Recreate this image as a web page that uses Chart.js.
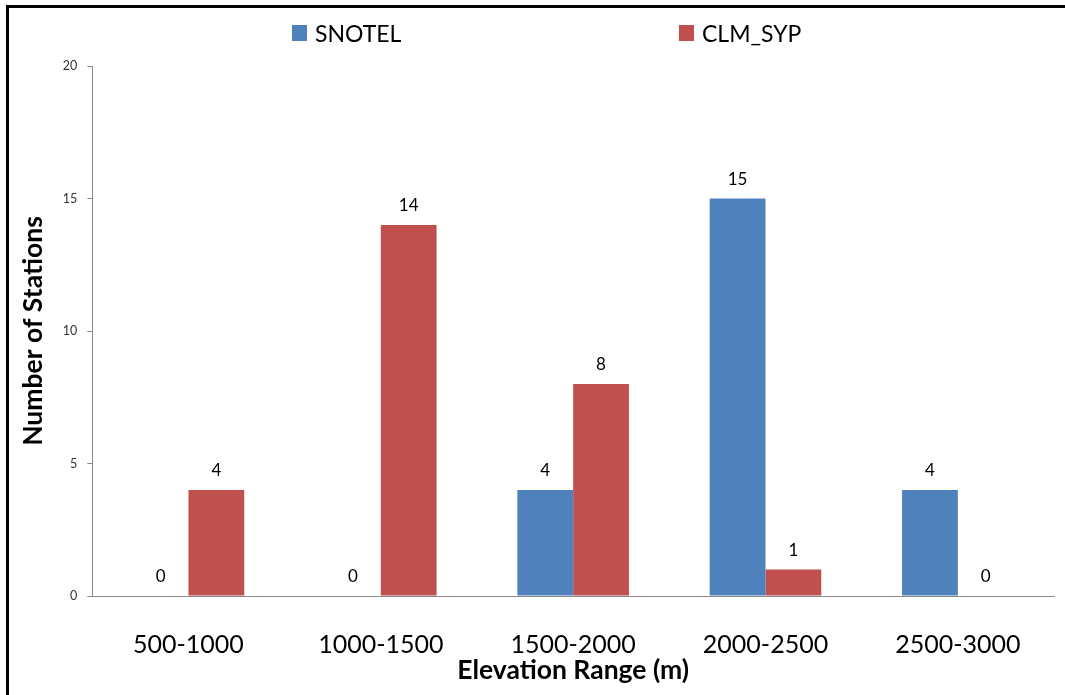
<!DOCTYPE html>
<html>
<head>
<meta charset="utf-8">
<script src="https://cdn.jsdelivr.net/npm/chart.js@4.4.1/dist/chart.umd.min.js"></script>
<style>
  html, body { margin: 0; padding: 0; background: #fff; }
  #wrap { position: relative; width: 1065px; height: 695px; overflow: hidden; }
  #frame { position: absolute; left: 6px; top: 5px; right: -10px; bottom: -10px;
           border-top: 3px solid #000; border-left: 3px solid #000; pointer-events: none; }
  .legend-item { position: absolute; top: 19px; display: flex; align-items: center;
                 font-family: Lato, "Open Sans", sans-serif; font-size: 23px; color: #000; }
  .legend-item span.box { display: inline-block; width: 15px; height: 16px; margin-right: 8px; }
</style>
</head>
<body>
<div id="wrap">
  <canvas id="stationsChart" width="1065" height="695"></canvas>
  <div id="legend"></div>
  <div id="frame"></div>
</div>
<script>
document.addEventListener("DOMContentLoaded", function() {
    // chart data
    const elevationRanges = ['500-1000', '1000-1500', '1500-2000', '2000-2500', '2500-3000'];
    const snotelCounts = [0, 0, 4, 15, 4];
    const clmSypCounts = [4, 14, 8, 1, 0];
    const seriesNames = ['SNOTEL', 'CLM_SYP'];
    const seriesColors = ['#4F81BD', '#C0504D'];

    const fontFamily = 'Lato, "Open Sans", sans-serif';

    // draws the value above each bar
    const valueLabels = {
        id: 'valueLabels',
        afterDatasetsDraw(chart) {
            const ctx = chart.ctx;
            ctx.save();
            ctx.font = '17px ' + fontFamily;
            ctx.fillStyle = '#000';
            ctx.textAlign = 'center';
            ctx.textBaseline = 'middle';
            chart.data.datasets.forEach(function(ds, i) {
                chart.getDatasetMeta(i).data.forEach(function(bar, j) {
                    ctx.fillText(ds.data[j], bar.x, bar.y - 19);
                });
            });
            ctx.restore();
        }
    };

    const chartCtx = document.getElementById('stationsChart').getContext('2d');
    const stationsChart = new Chart(chartCtx, {
        type: 'bar',
        data: {
            labels: elevationRanges,
            datasets: [
                { label: seriesNames[0], data: snotelCounts, backgroundColor: seriesColors[0] },
                { label: seriesNames[1], data: clmSypCounts, backgroundColor: seriesColors[1] }
            ]
        },
        options: {
            responsive: false,
            animation: false,
            layout: { padding: { left: 12, right: 11, top: 66, bottom: 0 } },
            datasets: { bar: { categoryPercentage: 0.58, barPercentage: 1.0 } },
            plugins: {
                legend: { display: false },
                tooltip: { enabled: false }
            },
            scales: {
                x: {
                    afterFit: function(scale) { scale.height = 99; },
                    grid: { display: false, drawTicks: false },
                    border: { color: '#888888', width: 1 },
                    ticks: { color: '#000', font: { family: fontFamily, size: 25 }, padding: 34 },
                    title: {
                        display: true, text: 'Elevation Range (m)', color: '#000',
                        font: { family: fontFamily, size: 26.5, weight: 'bold' },
                        padding: { top: 4, bottom: 9 }
                    }
                },
                y: {
                    min: 0, max: 20,
                    grid: { drawOnChartArea: false, tickLength: 5, color: '#888888' },
                    border: { color: '#888888', width: 1 },
                    ticks: { stepSize: 5, color: '#333', font: { family: fontFamily, size: 12.5 }, padding: 10 },
                    title: {
                        display: true, text: 'Number of Stations', color: '#000',
                        font: { family: fontFamily, size: 26.5, weight: 'bold' },
                        padding: { top: 6, bottom: 3 }
                    }
                }
            }
        },
        plugins: [valueLabels]
    });

    // html legend built from the datasets
    const legendLeft = [292, 679];
    const legendEl = document.getElementById('legend');
    stationsChart.data.datasets.forEach(function(ds, i) {
        const item = document.createElement('div');
        item.className = 'legend-item';
        item.style.left = legendLeft[i] + 'px';
        const box = document.createElement('span');
        box.className = 'box';
        box.style.background = ds.backgroundColor;
        item.appendChild(box);
        item.appendChild(document.createTextNode(ds.label));
        legendEl.appendChild(item);
    });
});
</script>
</body>
</html>
